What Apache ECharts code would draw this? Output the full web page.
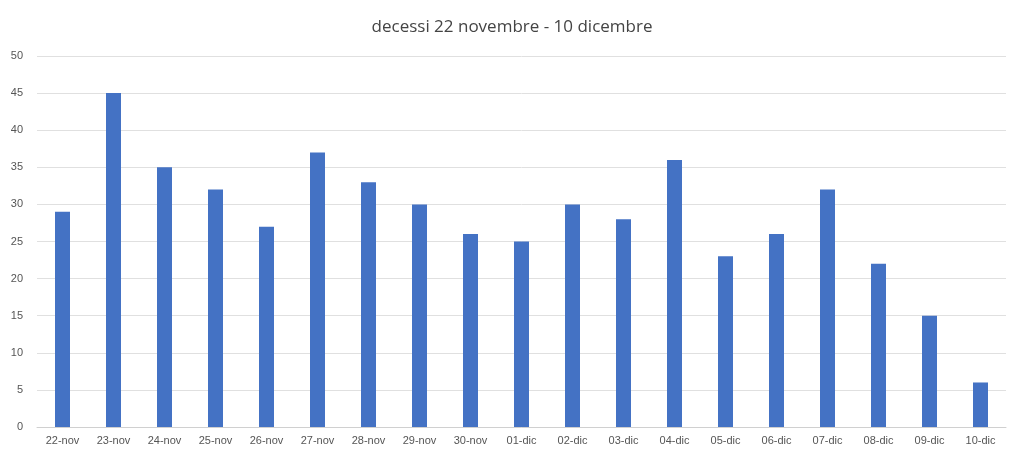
<!DOCTYPE html>
<html><head><meta charset="utf-8">
<script src="https://cdn.jsdelivr.net/npm/echarts@6/dist/echarts.min.js"></script>
<style>html,body{margin:0;padding:0;background:#fff}#c{width:1024px;height:451px}</style>
</head><body><div id="c"></div>
<script>
const categories=["22-nov","23-nov","24-nov","25-nov","26-nov","27-nov","28-nov","29-nov","30-nov","01-dic","02-dic","03-dic","04-dic","05-dic","06-dic","07-dic","08-dic","09-dic","10-dic"];
const values=[29,45,35,32,27,37,33,30,26,25,30,28,36,23,26,32,22,15,6];
const chart=echarts.init(document.getElementById('c'));
chart.setOption({
  animation:false,
  title:{text:'decessi 22 novembre - 10 dicembre',left:'center',top:14,textStyle:{fontFamily:'Open Sans',fontWeight:'normal',fontSize:17,color:'#444'}},
  grid:{left:37,right:18,top:56,bottom:24},
  xAxis:{type:'category',data:categories,axisTick:{show:false},axisLine:{lineStyle:{color:'#d0d0d0'}},
    axisLabel:{color:'#555',fontSize:11,interval:0,margin:8}},
  yAxis:{type:'value',min:0,max:50,interval:5,axisLabel:{color:'#555',fontSize:11,margin:14},
    splitLine:{lineStyle:{color:'#e0e0e0'}}},
  series:[{type:'bar',data:values,barWidth:15,itemStyle:{color:'#4472c4'}}]
});
</script></body></html>
